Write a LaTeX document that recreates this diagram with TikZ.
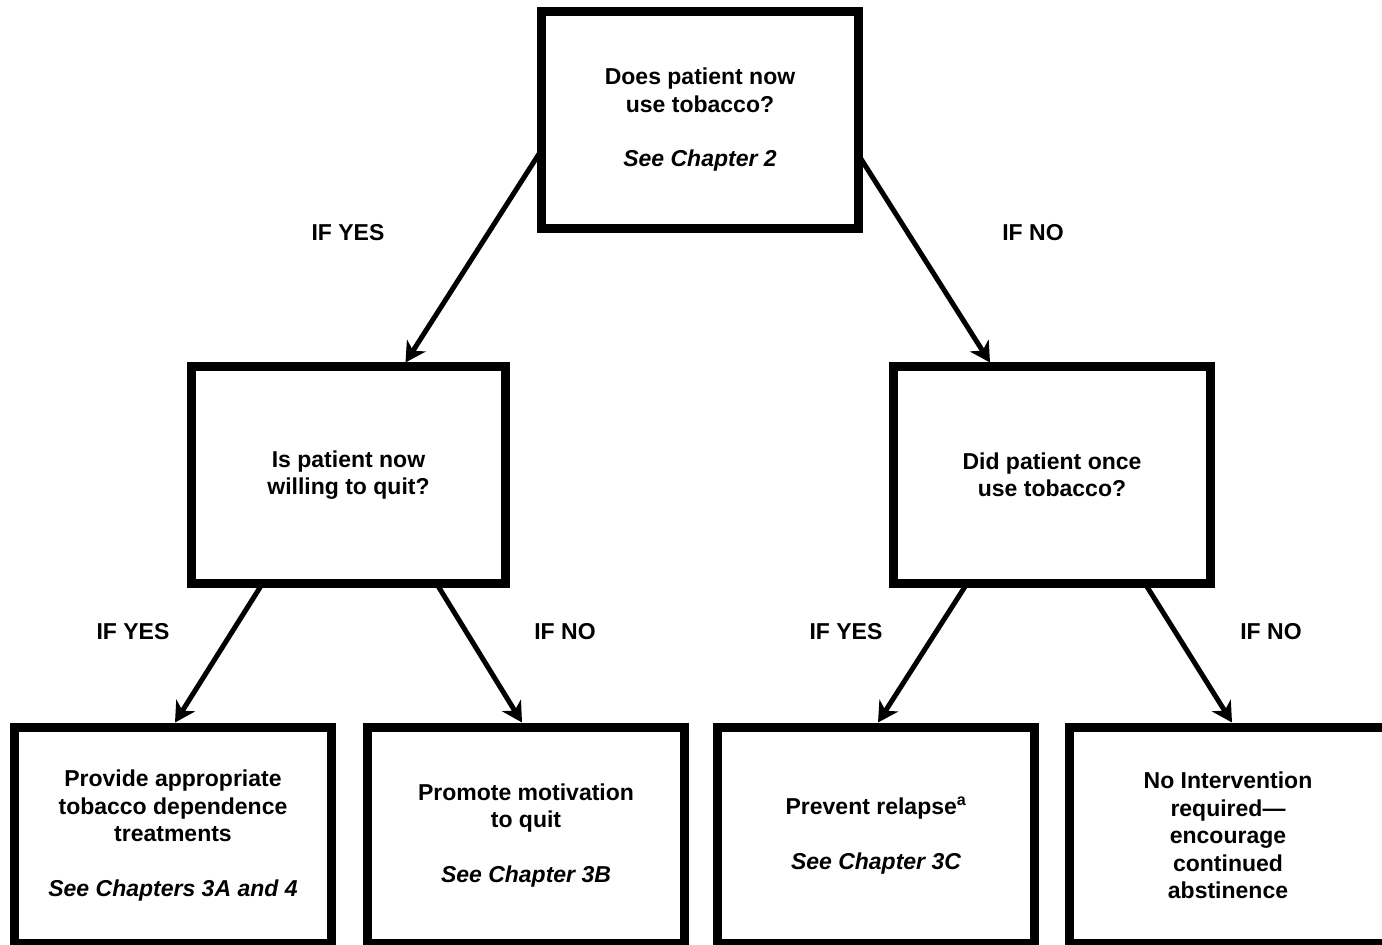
\documentclass[tikz,border=0pt]{standalone}
\usepackage{fontspec}
\setmainfont{Liberation Sans}
\usetikzlibrary{arrows.meta}
\begin{document}
\begin{tikzpicture}[x=1pt,y=-1pt,
  box/.style={draw, line width=9pt, rectangle, inner sep=0pt, outer sep=0pt,
    minimum width=317pt, minimum height=217pt, align=center,
    font=\fontsize{23}{27.5}\selectfont\bfseries},
  lbl/.style={font=\fontsize{23}{26}\selectfont\bfseries, inner sep=0pt},
  arr/.style={line width=5pt, -{Stealth[length=20pt,width=22pt,inset=6pt]}}]
\useasboundingbox[fill=white] (0,0) rectangle (1382,945);

\node[box] (top) at (700,120) {Does patient now\\use tobacco?\\[27pt]\itshape See Chapter 2};
\node[box, minimum width=314pt] (midL) at (348.5,475) {Is patient now\\willing to quit?};
\node[box] (midR) at (1052,475) {Did patient once\\use tobacco?};

\node[box, minimum height=216pt] (b1) at (173,835.5) {Provide appropriate\\tobacco dependence\\treatments\\[27pt]\itshape See Chapters 3A and 4};
\node[box, minimum height=216pt] (b2) at (526,835.5) {Promote motivation\\to quit\\[27pt]\itshape See Chapter 3B};
\node[box, minimum height=216pt] (b3) at (876,835.5) {Prevent relapse\textsuperscript{a}\\[27pt]\itshape See Chapter 3C};
\node[box, minimum height=216pt] (b4) at (1228,835.5) {No Intervention\\required---\\encourage\\continued\\abstinence};

\draw[arr] ([yshift=-30pt]top.west) -- ([xshift=57pt,yshift=4pt]midL.north);
\draw[arr] ([yshift=-35pt]top.east) -- ([xshift=-62pt,yshift=4pt]midR.north);
\draw[arr] ([xshift=-86pt]midL.south) -- ([xshift=2pt,yshift=5pt]b1.north);
\draw[arr] ([xshift=88pt]midL.south) -- ([xshift=-4pt,yshift=5pt]b2.north);
\draw[arr] ([xshift=-85pt]midR.south) -- ([xshift=2pt,yshift=5pt]b3.north);
\draw[arr] ([xshift=93pt]midR.south) -- ([xshift=4pt,yshift=5pt]b4.north);

\node[lbl] (l1) at (348,233) {IF YES};
\node[lbl] (l2) at (1033,233) {IF NO};
\node[lbl] (l3) at (133,632) {IF YES};
\node[lbl] (l4) at (565,632) {IF NO};
\node[lbl] (l5) at (846,632) {IF YES};
\node[lbl] (l6) at (1271,632) {IF NO};
\end{tikzpicture}
\end{document}
